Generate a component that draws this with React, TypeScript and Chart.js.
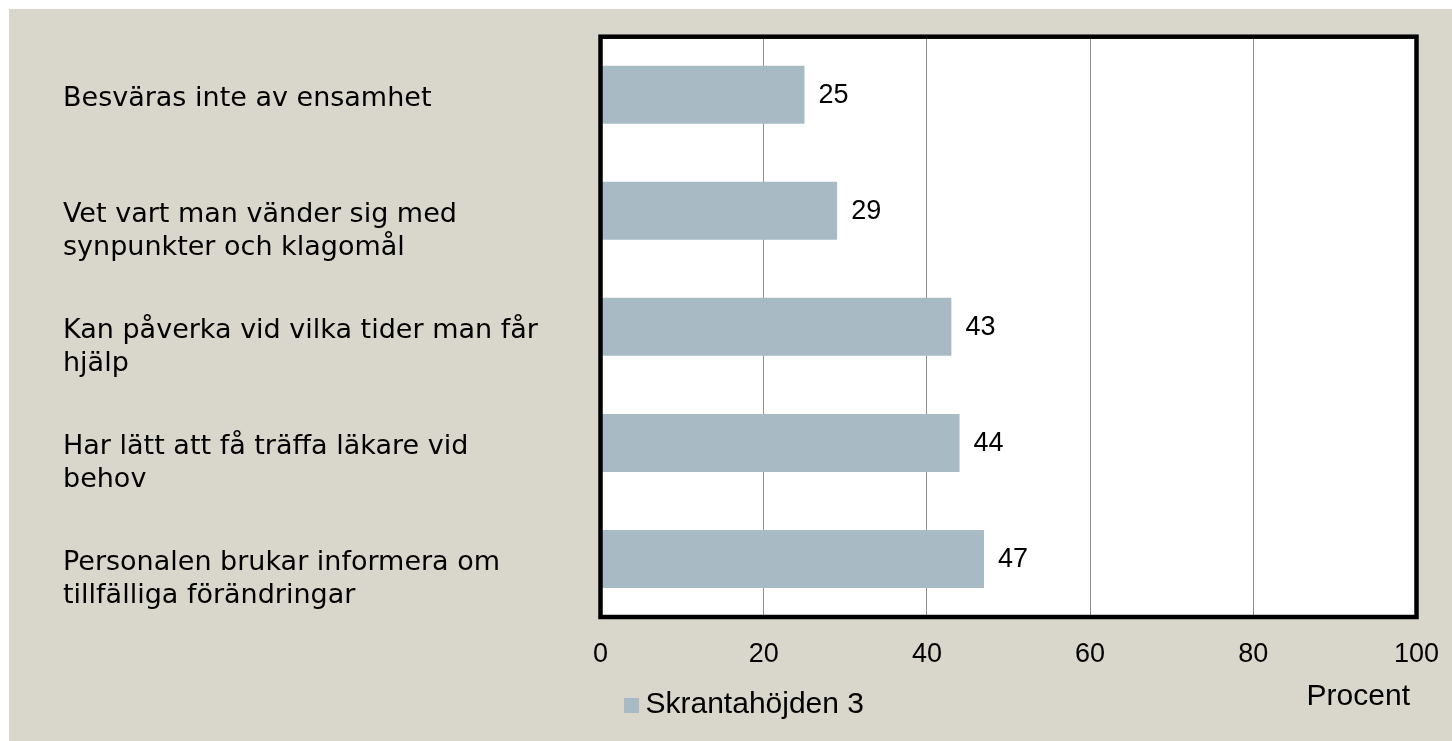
import React, { useEffect, useRef } from "react";
import { Chart, registerables } from "chart.js";

Chart.register(...registerables);

const categories: string[][] = [
  ["Besväras inte av ensamhet"],
  ["Vet vart man vänder sig med", "synpunkter och klagomål"],
  ["Kan påverka vid vilka tider man får", "hjälp"],
  ["Har lätt att få träffa läkare vid", "behov"],
  ["Personalen brukar informera om", "tillfälliga förändringar"],
];
const values: number[] = [25, 29, 43, 44, 47];
const seriesLabel = "Skrantahöjden 3";
const axisTitle = "Procent";
const xMin = 0;
const xMax = 100;
const xStep = 20;

const BAR = "#a8bbc5";
const BG = "#d9d7cb";
const SANS = "'Liberation Sans', Arial, sans-serif";
const CAT = "'DejaVu Sans', sans-serif";

export default function App() {
  const ref = useRef<HTMLCanvasElement | null>(null);

  useEffect(() => {
    if (!ref.current) return;

    const framePlugin = {
      id: "frame",
      beforeDraw(chart: any) {
        const { ctx, chartArea: a } = chart;
        ctx.save();
        ctx.fillStyle = "#ffffff";
        ctx.fillRect(a.left, a.top, a.right - a.left, a.bottom - a.top);
        ctx.restore();
      },
      afterDatasetsDraw(chart: any) {
        const { ctx } = chart;
        const meta = chart.getDatasetMeta(0);
        ctx.save();
        ctx.font = `27px ${SANS}`;
        ctx.fillStyle = "#000";
        ctx.textAlign = "left";
        ctx.textBaseline = "middle";
        meta.data.forEach((el: any, i: number) => {
          ctx.fillText(String(values[i]), el.x + 14, el.y + 1);
        });
        ctx.restore();
      },
      afterDraw(chart: any) {
        const { ctx, chartArea: a } = chart;
        ctx.save();
        ctx.strokeStyle = "#000";
        ctx.lineWidth = 4.5;
        ctx.strokeRect(a.left, a.top, a.right - a.left, a.bottom - a.top);
        // axis title
        ctx.font = `30px ${SANS}`;
        ctx.fillStyle = "#000";
        ctx.textAlign = "right";
        ctx.textBaseline = "middle";
        ctx.fillText(axisTitle, a.right - 6.5, a.bottom + 80);
        // legend
        const ds = chart.data.datasets[0];
        ctx.fillStyle = ds.backgroundColor;
        ctx.fillRect(a.left + 23.5, a.bottom + 81, 15, 15);
        ctx.fillStyle = "#000";
        ctx.textAlign = "left";
        ctx.fillText(ds.label, a.left + 45, a.bottom + 87.5);
        ctx.restore();
      },
    };

    const chart = new Chart(ref.current, {
      type: "bar",
      data: {
        labels: categories.map((l) => (l.length === 1 ? [...l, ""] : l)),
        datasets: [
          {
            label: seriesLabel,
            data: values,
            backgroundColor: BAR,
            borderWidth: 0,
            categoryPercentage: 0.5,
            barPercentage: 1,
          },
        ],
      },
      options: {
        indexAxis: "y",
        responsive: false,
        animation: false,
        devicePixelRatio: 1,
        layout: { padding: { left: 54, top: 27.7, right: 35.5, bottom: 49 } },
        plugins: {
          legend: { display: false },
          tooltip: { enabled: false },
        },
        scales: {
          x: {
            min: xMin,
            max: xMax,
            ticks: {
              stepSize: xStep,
              color: "#000",
              font: { family: SANS, size: 27, lineHeight: 1 },
              padding: 24,
            },
            grid: { color: "#8f8f8f", lineWidth: 1, drawTicks: false },
            border: { display: false },
            afterFit(scale: any) {
              scale.paddingLeft = 0;
              scale.paddingRight = 0;
            },
          },
          y: {
            ticks: {
              color: "#000",
              crossAlign: "far",
              labelOffset: 21,
              font: { family: CAT, size: 27, lineHeight: "33px" },
            },
            grid: { display: false },
            border: { display: false },
            afterFit(scale: any) {
              scale.width = 537.5;
              scale.paddingTop = 0;
              scale.paddingBottom = 0;
            },
          },
        },
      } as any,
      plugins: [framePlugin],
    });

    return () => chart.destroy();
  }, []);

  return (
    <div
      style={{
        position: "absolute",
        left: 9,
        top: 9,
        width: 1443,
        height: 732,
        background: BG,
      }}
    >
      <canvas ref={ref} width={1443} height={732} style={{ display: "block" }} />
    </div>
  );
}
